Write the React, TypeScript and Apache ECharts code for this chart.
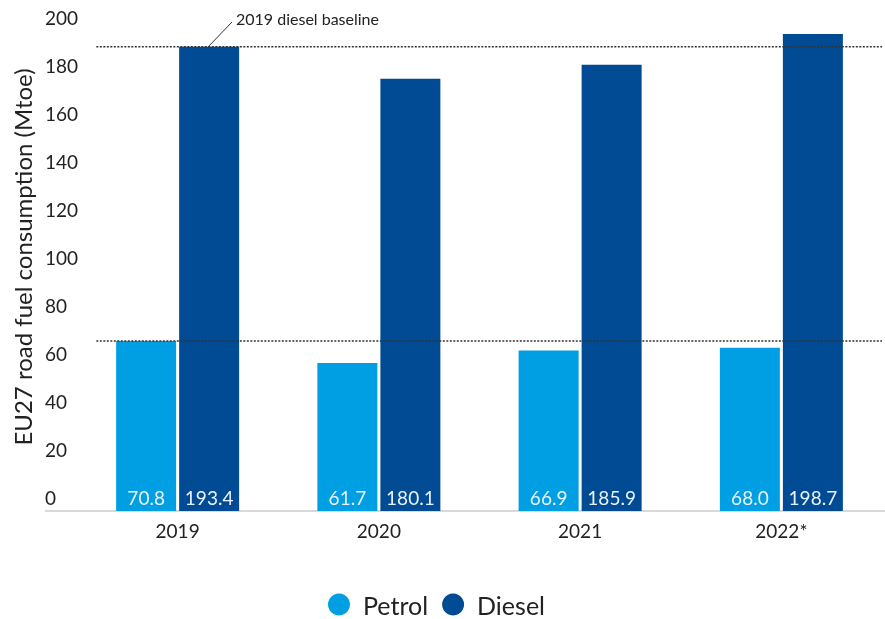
import React, { useEffect, useRef } from "react";
import * as echarts from "echarts";

const categories = ["2019", "2020", "2021", "2022*"];
const petrol = [70.8, 61.7, 66.9, 68.0];
const diesel = [193.4, 180.1, 185.9, 198.7];
const yMin = 0;
const yMax = 200;
const yInterval = 20;
const yTitle = "EU27 road fuel consumption (Mtoe)";
const baselineText = "2019 diesel baseline";
const seriesNames = ["Petrol", "Diesel"];

const FONT = "Lato";
const PETROL = "#009fe3";
const DIESEL = "#004b93";

export default function App() {
  const ref = useRef<HTMLDivElement>(null);
  useEffect(() => {
    if (!ref.current) return;
    const chart = echarts.init(ref.current, null, { renderer: "svg" });
    const lineStart = 0.024;
    const barLabel = {
      show: true,
      position: "insideBottom",
      distance: 4,
      color: "#e8f3fb",
      fontSize: 19,
      fontFamily: FONT,
      formatter: (p: any) => Number(p.value).toFixed(1),
    };
    const dotted = {
      color: "#333",
      width: 1.5,
      type: [2, 1.5],
    };
    chart.setOption({
      animation: false,
      textStyle: { fontFamily: FONT },
      grid: { left: 77, right: 3, top: 31, bottom: 108, containLabel: false },
      legend: {
        data: seriesNames,
        left: 328,
        top: 592,
        icon: "circle",
        itemWidth: 22,
        itemHeight: 22,
        itemGap: 14,
        padding: 0,
        textStyle: { fontSize: 25, color: "#222", fontFamily: FONT, padding: [0, 0, 0, 8] },
      },
      xAxis: [
        {
          type: "category",
          data: categories,
          axisLine: { show: false },
          axisTick: { show: false },
          axisLabel: { color: "#222", fontSize: 19, margin: 10, fontFamily: FONT },
        },
        { type: "value", min: 0, max: 1, show: false },
      ],
      yAxis: {
        type: "value",
        min: yMin,
        max: yMax,
        interval: yInterval,
        splitLine: { show: false },
        axisLine: { show: false },
        axisTick: { show: false },
        axisLabel: {
          color: "#222",
          fontSize: 19,
          fontFamily: FONT,
          align: "left",
          verticalAlign: "bottom",
          margin: 32,
          padding: [0, 0, 4, 0],
        },
      },
      graphic: [
        {
          type: "line",
          shape: { x1: 45, y1: 511, x2: 885, y2: 511 },
          style: { stroke: "#cccccc", lineWidth: 1.5 },
          z: 0,
        },
        {
          type: "text",
          x: 22,
          y: 257,
          rotation: Math.PI / 2,
          style: {
            text: yTitle,
            fontSize: 24,
            fontFamily: FONT,
            fill: "#222",
            align: "center",
            verticalAlign: "middle",
          },
        },
        {
          type: "line",
          shape: { x1: 208, y1: 47, x2: 232, y2: 22 },
          style: { stroke: "#333", lineWidth: 1 },
        },
        {
          type: "text",
          x: 236,
          y: 18,
          style: {
            text: baselineText,
            fontSize: 16,
            fontFamily: FONT,
            fill: "#222",
            align: "left",
            verticalAlign: "middle",
          },
        },
      ],
      series: [
        {
          name: seriesNames[0],
          type: "bar",
          data: petrol,
          barWidth: 60,
          barGap: "5%",
          itemStyle: { color: PETROL },
          label: barLabel,
        },
        {
          name: seriesNames[1],
          type: "bar",
          data: diesel,
          barWidth: 60,
          barGap: "5%",
          itemStyle: { color: DIESEL },
          label: barLabel,
        },
        {
          type: "line",
          xAxisIndex: 1,
          data: [
            [lineStart, diesel[0]],
            [1, diesel[0]],
          ],
          symbol: "none",
          silent: true,
          clip: false,
          lineStyle: dotted,
          z: 5,
        },
        {
          type: "line",
          xAxisIndex: 1,
          data: [
            [lineStart, petrol[0]],
            [1, petrol[0]],
          ],
          symbol: "none",
          silent: true,
          clip: false,
          lineStyle: dotted,
          z: 5,
        },
      ],
    });
    return () => chart.dispose();
  }, []);
  return (
    <div
      ref={ref}
      style={{ position: "fixed", left: 0, top: 0, width: 885, height: 619 }}
    />
  );
}
